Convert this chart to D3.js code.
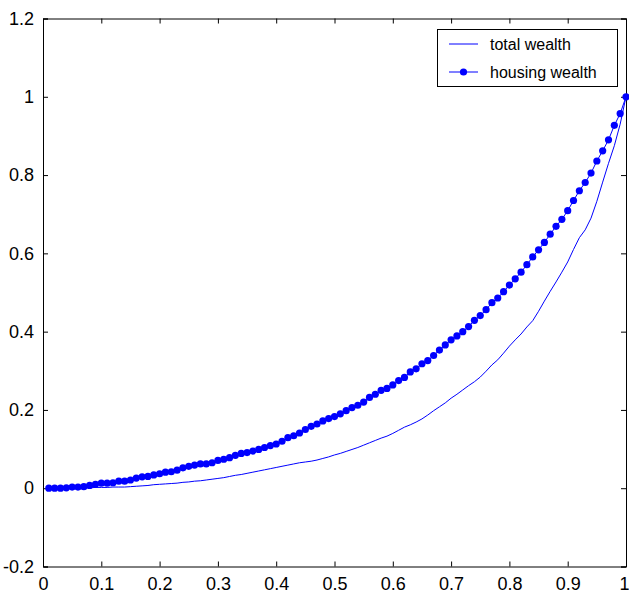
<!DOCTYPE html>
<html>
<head>
<meta charset="utf-8">
<script src="https://cdn.jsdelivr.net/npm/d3@7"></script>
<style>
  html, body { margin: 0; padding: 0; background: #fff; }
  svg { display: block; }
  text { font-family: "Liberation Sans", Arial, Helvetica, sans-serif; fill: #000; }
</style>
</head>
<body>
<script>
// ---- data ----
const xValues = d3.range(1, 101).map(i => i / 100);

const housingWealth = [
  0.000, 0.000, 0.000, 0.001, 0.003, 0.003, 0.004, 0.007, 0.010, 0.013,
  0.013, 0.014, 0.018, 0.018, 0.021, 0.026, 0.029, 0.030, 0.034, 0.037,
  0.041, 0.042, 0.046, 0.052, 0.056, 0.059, 0.062, 0.062, 0.065, 0.071,
  0.074, 0.078, 0.084, 0.089, 0.091, 0.095, 0.099, 0.104, 0.109, 0.113,
  0.120, 0.129, 0.134, 0.141, 0.150, 0.158, 0.164, 0.172, 0.178, 0.183,
  0.190, 0.198, 0.206, 0.212, 0.220, 0.232, 0.240, 0.250, 0.255, 0.264,
  0.275, 0.283, 0.297, 0.305, 0.318, 0.326, 0.339, 0.353, 0.366, 0.379,
  0.389, 0.400, 0.413, 0.429, 0.441, 0.456, 0.474, 0.486, 0.502, 0.519,
  0.535, 0.552, 0.571, 0.591, 0.609, 0.628, 0.649, 0.669, 0.687, 0.709,
  0.735, 0.760, 0.781, 0.805, 0.836, 0.862, 0.890, 0.927, 0.957, 1.000
];

const totalWealth = [
  0.000, 0.000, 0.000, 0.000, 0.000, 0.001, 0.001, 0.001, 0.002, 0.002,
  0.002, 0.003, 0.003, 0.003, 0.004, 0.005, 0.006, 0.007, 0.009, 0.010,
  0.011, 0.012, 0.013, 0.015, 0.016, 0.018, 0.019, 0.021, 0.023, 0.025,
  0.027, 0.030, 0.033, 0.035, 0.038, 0.041, 0.044, 0.047, 0.050, 0.053,
  0.056, 0.059, 0.062, 0.065, 0.067, 0.069, 0.072, 0.076, 0.080, 0.085,
  0.089, 0.094, 0.099, 0.104, 0.110, 0.116, 0.122, 0.128, 0.133, 0.140,
  0.148, 0.156, 0.162, 0.169, 0.177, 0.187, 0.198, 0.208, 0.218, 0.230,
  0.240, 0.251, 0.262, 0.272, 0.284, 0.299, 0.315, 0.328, 0.345, 0.363,
  0.379, 0.394, 0.412, 0.428, 0.452, 0.478, 0.503, 0.527, 0.552, 0.578,
  0.610, 0.640, 0.660, 0.690, 0.733, 0.782, 0.830, 0.875, 0.930, 1.000
];

const xTicks = [0, 0.1, 0.2, 0.3, 0.4, 0.5, 0.6, 0.7, 0.8, 0.9, 1];
const yTicks = [-0.2, 0, 0.2, 0.4, 0.6, 0.8, 1, 1.2];
const seriesNames = ["total wealth", "housing wealth"];

// ---- layout ----
const W = 629, H = 594;
const mLeft = 43, mRight = 626, mTop = 18.5, mBottom = 566.5;
const blue = "#0000ff";

const svg = d3.select("body").append("svg").attr("width", W).attr("height", H);

const x = d3.scaleLinear().domain([0, 1]).range([mLeft, mRight]);
const y = d3.scaleLinear().domain([-0.2, 1.2]).range([mBottom, mTop]);

const fmt = d => (d === 0 ? "0" : (Number.isInteger(d) ? String(d) : String(+d.toFixed(1))));

// axes (inward ticks, mirrored)
const tl = 5;
const gB = svg.append("g").attr("transform", `translate(0,${mBottom})`)
  .call(d3.axisBottom(x).tickValues(xTicks).tickSize(-tl).tickPadding(tl + 6).tickFormat(fmt));
const gT = svg.append("g").attr("transform", `translate(0,${mTop})`)
  .call(d3.axisTop(x).tickValues(xTicks).tickSize(-tl).tickFormat(""));
const gL = svg.append("g").attr("transform", `translate(${mLeft},0)`)
  .call(d3.axisLeft(y).tickValues(yTicks).tickSize(-tl).tickPadding(tl + 4).tickFormat(fmt));
const gR = svg.append("g").attr("transform", `translate(${mRight},0)`)
  .call(d3.axisRight(y).tickValues(yTicks).tickSize(-tl).tickFormat(""));

[gB, gT, gL, gR].forEach(g => {
  g.select(".domain").attr("stroke", "#000").attr("stroke-width", 1);
  g.selectAll(".tick line").attr("stroke", "#000").attr("stroke-width", 1);
  g.selectAll(".tick text").attr("font-size", 18).attr("fill", "#000")
    .style("font-family", "'Liberation Sans', Arial, Helvetica, sans-serif");
});
// keep the last x label ("1") inside the picture
gB.selectAll(".tick text").filter(d => d === 1).attr("text-anchor", "end").attr("dx", 3);

// series
const line = d3.line().x((d, i) => x(xValues[i])).y(d => y(d));

svg.append("path").datum(totalWealth)
  .attr("d", line).attr("fill", "none").attr("stroke", blue).attr("stroke-width", 1);

svg.append("path").datum(housingWealth)
  .attr("d", line).attr("fill", "none").attr("stroke", blue).attr("stroke-width", 1);

svg.append("g").selectAll("circle").data(housingWealth).join("circle")
  .attr("cx", (d, i) => x(xValues[i])).attr("cy", d => y(d))
  .attr("r", 3.6).attr("fill", blue);

// legend
const lg = svg.append("g");
lg.append("rect")
  .attr("x", 437.5).attr("y", 29.5).attr("width", 180).attr("height", 57)
  .attr("fill", "#fff").attr("stroke", "#000").attr("stroke-width", 1);
const legendRows = [{ y: 44, marker: false }, { y: 72, marker: true }];
legendRows.forEach((r, i) => {
  lg.append("line").attr("x1", 449).attr("x2", 478).attr("y1", r.y).attr("y2", r.y)
    .attr("stroke", blue).attr("stroke-width", 1);
  if (r.marker) lg.append("circle").attr("cx", 463.5).attr("cy", r.y).attr("r", 3.6).attr("fill", blue);
  lg.append("text").attr("x", 490).attr("y", r.y).attr("dy", "0.35em")
    .attr("font-size", 16).text(seriesNames[i]);
});
</script>
</body>
</html>
